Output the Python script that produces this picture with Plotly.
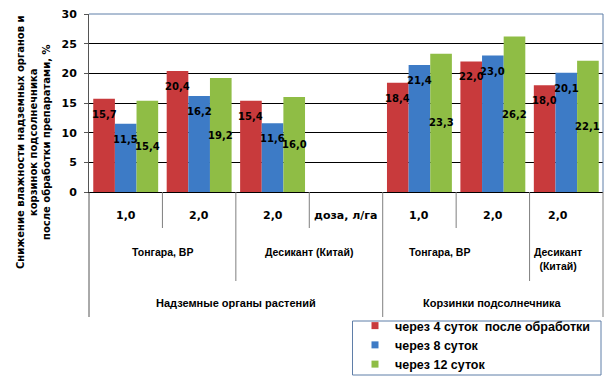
import plotly.graph_objects as go

# ---- data ----
slot_labels = ["1,0", "2,0", "2,0", "доза, л/га", "1,0", "2,0", "2,0"]
bar_slots = [0, 1, 2, 4, 5, 6]
series_names = ["через 4 суток  после обработки", "через 8 суток", "через 12 суток"]
s4 = [15.7, 20.4, 15.4, 18.4, 22.0, 18.0]
s8 = [11.5, 16.2, 11.6, 21.4, 23.0, 20.1]
s12 = [15.4, 19.2, 16.0, 23.3, 26.2, 22.1]
prep_labels = [("Тонгара, ВР", 0.5), ("Десикант (Китай)", 2.5), ("Тонгара, ВР", 4.27), ("Десикант<br>(Китай)", 5.89)]
organ_labels = [("Надземные органы растений", 1.5), ("Корзинки подсолнечника", 5.0)]
y_title = "Снижение влажности надземных органов и<br>корзинок подсолнечника<br>после обработки препаратами, %"
colors = ["#C83A3C", "#3D7BC6", "#8FBD45"]

W, H = 607, 376
ML, MR, MT, MB = 89, 4, 14, 184
PH = H - MT - MB
BARGAP = 0.116
n_slots = len(slot_labels)


def py(pix):
    return (H - MB - pix) / PH


def px(pix):
    return (pix - ML) / (W - ML - MR)


def fmt(v):
    return f"{v:.1f}".replace(".", ",")


fig = go.Figure()
all_series = [s4, s8, s12]
for name, vals, col in zip(series_names, all_series, colors):
    fig.add_trace(go.Bar(x=bar_slots, y=vals, name=name, marker=dict(color=col, line=dict(width=0)),
                         showlegend=False, legendgroup=name))
for name, col in zip(series_names, colors):
    fig.add_trace(go.Scatter(x=[None], y=[None], mode="markers", name=name, legendgroup=name,
                             marker=dict(symbol="square", size=7, color=col)))

annotations = []
bw = (1 - BARGAP) / 3
lab_font = dict(family="DejaVu Sans", size=10, color="black", weight="bold")
for k, vals in enumerate(all_series):
    off = (k - 1) * bw
    for s, v in zip(bar_slots, vals):
        if k < 2:
            annotations.append(dict(x=s + off, y=v, yshift=-15.5, text=fmt(v), showarrow=False,
                                    xanchor="center", yanchor="middle", font=lab_font))
        else:
            annotations.append(dict(x=s + off, y=v / 2, text=fmt(v), showarrow=False,
                                    xanchor="center", yanchor="middle", font=lab_font))

cat_font1 = dict(family="DejaVu Sans", size=11, color="black", weight="bold")
cat_font2 = dict(family="Liberation Sans", size=10.5, color="black", weight="bold")
cat_font3 = dict(family="Liberation Sans", size=11, color="black", weight="bold")
for i, t in enumerate(slot_labels):
    xi = i if i < n_slots - 1 else 5.89
    annotations.append(dict(x=xi, xref="x", y=py(215), yref="paper", text=t, showarrow=False,
                            xanchor="center", yanchor="middle", font=cat_font1))
for t, xv in prep_labels:
    yy = py(258.5) if "<br>" in t else py(252)
    annotations.append(dict(x=xv, xref="x", y=yy, yref="paper", text=t, showarrow=False,
                            xanchor="center", yanchor="middle", font=cat_font2))
for t, xv in organ_labels:
    annotations.append(dict(x=xv, xref="x", y=py(303), yref="paper", text=t, showarrow=False,
                            xanchor="center", yanchor="middle", font=cat_font3))
annotations.append(dict(x=px(33), xref="paper", y=py(142), yref="paper", text=y_title, textangle=-90,
                        showarrow=False, xanchor="center", yanchor="middle",
                        font=dict(family="DejaVu Sans", size=10, color="black", weight="bold")))

shapes = []
sep_color = "#7F7F7F"
sep_ends = [228, 281, 228, 317, 228, 281]
for i, e in enumerate(sep_ends):
    xp = (i + 1) / n_slots
    shapes.append(dict(type="line", xref="paper", yref="paper", x0=xp, x1=xp, y0=0, y1=py(e),
                       line=dict(color=sep_color, width=1)))
shapes.append(dict(type="line", xref="paper", yref="paper", x0=0, x1=0, y0=0, y1=py(317),
                   line=dict(color="#555555", width=1)))
shapes.append(dict(type="line", xref="paper", yref="paper", x0=1, x1=1, y0=0, y1=py(317),
                   line=dict(color=sep_color, width=1)))
border = "#5F7EA8"
shapes.append(dict(type="line", xref="paper", yref="paper", x0=0, x1=1, y0=1, y1=1,
                   line=dict(color=border, width=1)))
shapes.append(dict(type="line", xref="paper", yref="paper", x0=1, x1=1, y0=0, y1=1,
                   line=dict(color=border, width=1)))
# legend frame
shapes.append(dict(type="rect", xref="paper", yref="paper", x0=px(352.5), x1=px(601), y0=py(321), y1=py(375),
                   line=dict(color=border, width=1), fillcolor="white", layer="below"))

fig.update_layout(
    width=W, height=H,
    margin=dict(l=ML, r=MR, t=MT, b=MB, autoexpand=False),
    paper_bgcolor="white", plot_bgcolor="white",
    barmode="group", bargap=BARGAP, bargroupgap=0,
    annotations=annotations, shapes=shapes,
    legend=dict(x=px(355), y=py(311), xanchor="left", yanchor="top",
                borderwidth=0, bgcolor="rgba(0,0,0,0)", tracegroupgap=0,
                font=dict(family="Liberation Sans", size=12.5, color="black", weight="bold")),
    xaxis=dict(range=[-0.5, n_slots - 0.5], showticklabels=False, ticks="", showgrid=False,
               zeroline=False, showline=True, linecolor="black", linewidth=1),
    yaxis=dict(range=[0, 30], dtick=5, showgrid=True, gridcolor="black", gridwidth=1,
               zeroline=False, showline=True, linecolor="#555555", linewidth=1,
               ticks="outside", ticklen=4, tickcolor="#555555", ticklabelstandoff=5,
               tickfont=dict(family="DejaVu Sans", size=11, color="black", weight="bold")),
)

fig.write_html("out.html", config={"displayModeBar": False},
               post_script="document.body.style.margin='0';document.body.style.overflow='hidden';")
